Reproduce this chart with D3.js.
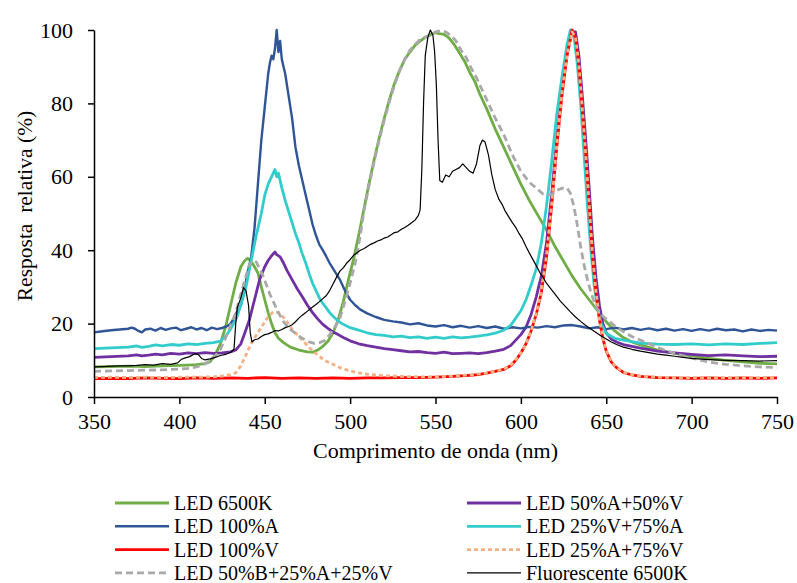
<!DOCTYPE html>
<html>
<head>
<meta charset="utf-8">
<title>Resposta relativa</title>
<script src="https://d3js.org/d3.v7.min.js"></script>
<style>
  body { margin: 0; background: #fff; }
  .curve { fill: none; stroke-linejoin: round; stroke-linecap: butt; }
  .axis path, .axis line { stroke: #000; stroke-width: 1.5px; }
</style>
</head>
<body>
<svg width="797" height="583"></svg>
<script>
// wavelength (nm), relative response (%)
const led6500 = [[350,8.2],[360,8.3],[370,8.4],[380,8.3],[390,8.5],[400,8.6],[405,8.7],[410,8.8],[415,9.1],[418,9.6],[421,11.5],[424,14.5],[427,19],[430,25],[433,31],[436,35.5],[438,37],[440,37.8],[442,37],[444,35.5],[446,33.8],[448,30],[450,26.5],[452,23],[454,20],[456,17.5],[458,16],[461,14.8],[465,13.6],[470,12.8],[475,12.3],[478,12.2],[481,12.8],[484,13.8],[487,15.2],[490,17.5],[493,21],[496,26],[499,32],[502,37.5],[505,44],[508,51],[511,58],[514,64.5],[517,70.5],[520,76],[523,81],[526,85.5],[529,89],[532,92],[535,94],[538,95.8],[541,97],[544,98],[547,98.7],[550,99.3],[552,99],[555,98.8],[558,97.8],[561,96],[564,93.8],[567,91.5],[570,88.5],[573,86],[576,82.5],[580,78.5],[585,73],[590,68],[595,63],[600,58],[605,53.5],[610,49.5],[615,45.5],[620,41],[625,37],[630,33],[635,29.5],[640,26.5],[645,23.5],[650,20.5],[655,18],[660,16.2],[665,15],[670,14.2],[675,13.5],[680,12.8],[690,11.9],[700,11.2],[710,10.5],[720,10],[730,9.6],[740,9.2],[750,9]];

const led50A50V = [[350,10.8],[360,11.0],[370,11.2],[375,11.5],[378,11.2],[382,11.4],[386,11.7],[390,11.5],[395,11.9],[400,11.7],[405,12.0],[410,11.8],[415,12.1],[420,11.9],[425,12.0],[430,12.3],[433,12.8],[436,14.5],[438,17],[441,21],[444,26.5],[447,32],[450,35.5],[452,37.2],[454,38.5],[456,39.5],[457,38.8],[459,38.2],[461,36.5],[463,34.5],[466,32],[469,29.5],[472,27.3],[475,25],[478,23],[481,21.3],[484,19.8],[487,18.7],[490,17.7],[493,17],[496,16.2],[500,15.3],[505,14.5],[510,14.0],[515,13.6],[520,13.2],[525,12.9],[530,12.6],[535,12.3],[540,12.4],[545,12.1],[550,11.9],[555,12.2],[560,11.8],[565,11.9],[570,12.0],[575,11.8],[580,12.1],[585,12.5],[590,13.0],[594,14],[597,15.5],[600,17],[603,19],[606,22.5],[609,27.3],[612,33],[615,42],[618,55],[621,70],[624,83.5],[627,93.5],[630,99.5],[632,99.5],[634,93],[636,82],[638,70],[640,57],[642,43],[644,32.5],[646,25],[648,20],[650,17.5],[653,15.8],[656,15],[660,14.3],[665,13.8],[670,13.3],[675,12.9],[680,12.5],[690,12.0],[700,11.6],[710,11.3],[720,11.5],[730,11.2],[740,11.0],[750,11.1]];

const led100A = [[350,17.6],[355,17.9],[360,18.2],[365,18.4],[370,18.6],[372,18.9],[374,18.6],[376,18.0],[378,17.6],[380,18.4],[383,18.6],[386,18.1],[389,18.8],[392,18.3],[395,18.7],[398,18.9],[401,18.2],[404,18.6],[407,19.0],[410,18.4],[413,18.8],[416,18.2],[419,18.9],[422,18.5],[425,18.8],[428,19.3],[430,20],[432,21.5],[434,23.5],[436,25],[438,29],[440,34],[442,38],[444,46],[446,58],[448,70],[450,79],[452,88],[453,91],[454,93],[455,92],[456,95],[457,100],[458,94],[459,97],[460,92],[462,88],[464,82],[466,76],[468,68],[470,63],[472,59],[474,55],[476,51],[478,47],[480,44],[482,41.5],[484,40],[486,38.3],[488,36.5],[490,35],[492,33.5],[494,32],[496,30],[498,28],[500,26.5],[503,25],[506,23.8],[510,22.8],[515,21.8],[520,21],[525,20.6],[530,20.3],[535,19.8],[540,20.1],[545,19.5],[550,19.2],[555,19.6],[560,19.0],[565,19.4],[570,18.9],[575,19.3],[580,18.8],[585,19.2],[590,18.6],[595,19.0],[600,18.7],[605,19.1],[610,18.9],[615,19.3],[620,19.0],[625,19.5],[630,19.6],[635,19.2],[640,18.7],[645,19.0],[650,18.5],[655,18.9],[660,18.4],[665,18.8],[670,18.3],[675,18.7],[680,18.2],[685,18.6],[690,18.1],[695,18.5],[700,18.0],[705,18.5],[710,18.1],[715,18.6],[720,18.2],[725,18.4],[730,17.9],[735,18.4],[740,18.0],[745,18.3],[750,18.1]];

const led25V75A = [[350,13.2],[360,13.4],[370,13.6],[375,13.9],[378,13.5],[382,13.8],[386,14.2],[390,13.9],[395,14.3],[400,14.1],[405,14.5],[410,14.3],[415,14.6],[420,14.8],[424,15.2],[427,16.5],[430,18.5],[433,21],[436,25],[439,30],[442,37],[445,44],[448,50],[450,55],[452,58],[454,60],[456,62],[457,60],[458,61],[460,57],[462,53.5],[464,50.5],[466,47.5],[468,44.5],[470,42],[472,39],[474,36.5],[476,33.6],[478,31],[480,29],[482,27],[484,25.5],[486,24.3],[488,23],[490,22],[493,20.7],[496,19.8],[500,18.9],[505,18.2],[510,17.5],[515,17.0],[520,16.8],[525,16.4],[530,16.6],[535,16.2],[540,16.4],[545,16.0],[550,16.3],[555,16.0],[560,16.4],[565,16.1],[570,16.3],[575,16.6],[580,16.9],[585,17.4],[590,18.2],[594,19.5],[597,21.5],[600,23.5],[603,26.5],[606,30.5],[609,35],[612,42],[615,52],[618,64],[621,77],[624,87],[627,96],[629,100],[631,98.5],[633,91],[635,80],[637,66],[639,52],[641,40],[643,30],[645,24],[647,20],[650,17.3],[655,16],[660,15.5],[665,15.1],[670,14.7],[680,14.4],[690,14.3],[700,14.5],[710,14.2],[720,14.5],[730,14.3],[740,14.6],[750,14.8]];

const led100V = [[350,5.0],[360,5.1],[370,5.0],[380,5.2],[390,5.1],[400,5.0],[410,5.2],[420,5.1],[430,5.2],[440,5.1],[450,5.3],[460,5.1],[470,5.2],[480,5.1],[490,5.2],[500,5.1],[510,5.2],[520,5.2],[530,5.3],[540,5.3],[550,5.4],[560,5.6],[570,5.9],[575,6.1],[580,6.5],[585,7.0],[590,7.5],[594,8.5],[597,10],[600,12],[603,14.5],[606,18],[609,22.5],[612,28.5],[615,38],[618,52],[621,68],[624,82],[627,93],[630,100],[632,98],[634,90],[636,78],[638,66],[640,52],[642,38],[644,28.5],[646,21],[648,16],[650,12.5],[653,9.5],[656,8],[660,6.7],[665,6.0],[670,5.6],[680,5.3],[690,5.2],[700,5.1],[710,5.2],[720,5.1],[730,5.2],[740,5.1],[750,5.2]];

const led25A75V = [[350,5.3],[360,5.4],[370,5.3],[380,5.4],[390,5.3],[400,5.4],[410,5.4],[420,5.5],[425,5.7],[430,6.1],[433,6.6],[436,8.5],[439,11.5],[442,14.5],[445,16.8],[448,19],[451,21.2],[454,22.8],[456,23.3],[458,23],[460,22.2],[463,20.5],[466,18.5],[469,17],[472,15.5],[476,13.5],[480,11.8],[485,10],[490,8.9],[495,7.8],[500,7.1],[505,6.6],[510,6.2],[520,5.8],[530,5.6],[540,5.5],[550,5.5],[560,5.7],[570,6.0],[580,6.5],[585,7.0],[590,7.6],[594,8.6],[597,10.2],[600,12],[603,14.5],[606,18],[609,22.8],[612,28.8],[615,38.5],[618,52.5],[621,68.5],[624,82.5],[627,93],[630,99.5],[632,98],[634,90.5],[636,78.5],[638,66],[640,52.5],[642,38.5],[644,28.8],[646,21.2],[648,16.2],[650,12.7],[653,9.7],[656,8.1],[660,6.8],[665,6.1],[670,5.7],[680,5.4],[690,5.3],[700,5.3],[710,5.3],[720,5.3],[730,5.3],[740,5.3],[750,5.3]];

const led50B = [[350,7.0],[360,7.1],[370,7.2],[380,7.3],[390,7.4],[400,7.6],[405,7.8],[410,8.2],[415,9],[418,10],[421,11.2],[424,13],[427,16],[430,19.5],[433,23],[436,28],[439,33],[441,36],[443,37.3],[445,36.8],[447,35],[449,33],[451,30.5],[453,28],[455,26],[458,23],[461,20.5],[464,18.8],[468,17.3],[472,16],[476,15],[479,14.6],[482,14.8],[485,15.4],[488,17],[491,19],[494,21.5],[497,26],[500,31],[503,36.5],[506,44],[508,50.5],[511,57.5],[514,64],[517,70],[520,75.5],[523,80.5],[526,85],[529,89],[532,92],[535,94.5],[538,96],[541,97.5],[544,98],[547,98.5],[550,99.5],[553,99.8],[556,99.5],[559,98.5],[562,97],[565,94.5],[568,92.5],[571,89.5],[574,87],[577,84],[580,81],[585,76],[590,71.5],[595,66],[600,61.5],[605,58.5],[610,56.5],[613,55.3],[616,55],[619,55.5],[622,56.5],[625,57],[627,57],[629,55.5],[631,52],[633,47],[635,41],[637,36],[639,32],[641,28.5],[644,24.5],[648,22],[652,20.5],[656,19],[660,17.8],[665,16.5],[670,15.5],[675,14.5],[680,13.5],[690,11.9],[700,10.6],[710,9.5],[720,8.9],[730,8.5],[740,8.2],[750,8]];

const fluor6500 = [[350,8.2],[355,8.3],[360,8.4],[365,8.5],[370,8.5],[375,8.6],[380,8.8],[385,8.7],[390,9.1],[395,8.9],[399,9.3],[401,10.2],[403,10.6],[406,11.0],[409,11.8],[411,11.6],[413,10.5],[415,10.1],[418,10.4],[421,10.8],[424,11.3],[427,11.6],[430,12.2],[432,13.0],[433,20],[434,24.5],[436,27],[437.5,29.8],[439,29],[440.5,25],[441.5,17.5],[442.5,15],[444,15.6],[446,15.8],[448,16.5],[450,17],[452,17.2],[454,17.6],[456,18.1],[458,18.0],[460,18.4],[462,18.9],[464,19.2],[466,19.7],[468,20.5],[470,21.5],[472,22.3],[474,23],[476,23.8],[478,24.5],[480,25.2],[482,26],[484,26.8],[486,27.6],[488,29],[490,30.8],[492,32.6],[494,34.3],[496,35.2],[498,36.5],[500,37.4],[502,38.6],[504,39.3],[506,40],[508,40.4],[510,41],[512,41.6],[514,42],[516,42.5],[518,42.8],[520,43.3],[522,43.6],[524,44.2],[526,44.8],[528,45],[530,45.7],[532,46.2],[534,46.8],[536,47.5],[538,48.2],[540,49.5],[541,51],[542,62],[543,80],[544,93],[545.5,98],[547,100],[548.5,98.5],[549.5,94],[550.5,85],[551.5,70],[552.5,59],[554,58.5],[556,60.5],[558,60],[560,61.5],[562,62],[564,62.5],[566,63.5],[568,62.5],[570,61.5],[572,61],[574,63.5],[576,68.5],[577.5,70],[579,69.5],[581,66],[583,60.5],[585,56.5],[587,54],[589,52.5],[591,50.5],[593,49],[595,47.5],[597,46.2],[599,44.5],[601,43],[603,41],[605,39.2],[607,37.5],[609,35.8],[611,34],[613,32.6],[615,31],[617,29.8],[620,28],[623,26.2],[626,24.7],[629,23.2],[632,21.8],[635,20.6],[638,19.5],[641,18.5],[644,17.6],[647,16.6],[650,15.8],[653,15],[656,14.3],[660,13.6],[665,13.0],[670,12.5],[675,12.1],[680,11.7],[685,11.4],[690,11.1],[695,10.8],[700,10.5],[710,10.2],[720,10.0],[730,9.9],[740,9.8],[750,9.9]];

const seriesNames = ["LED 6500K", "LED 50%A+50%V", "LED 100%A", "LED 25%V+75%A",
                     "LED 100%V", "LED 25%A+75%V", "LED 50%B+25%A+25%V", "Fluorescente 6500K"];
const seriesData = [led6500, led50A50V, led100A, led25V75A, led100V, led25A75V, led50B, fluor6500];
const xTicks = [350, 400, 450, 500, 550, 600, 650, 700, 750];
const yTicks = [0, 20, 40, 60, 80, 100];

const styles = [
  { color: "#70AD47", width: 2.8, dash: null },
  { color: "#7030A0", width: 2.8, dash: null },
  { color: "#2F5597", width: 2.4, dash: null },
  { color: "#33CCCC", width: 2.8, dash: null },
  { color: "#FF0000", width: 2.8, dash: null },
  { color: "#F4B183", width: 2.8, dash: "4,3" },
  { color: "#A9A9A9", width: 2.8, dash: "7,4" },
  { color: "#000000", width: 1.2, dash: null }
];

const FONT = "Liberation Serif";

const svg = d3.select("svg"),
    margin = {top: 30, right: 20, bottom: 186, left: 94},
    width = 777 - margin.left,
    height = 397 - margin.top,
    g = svg.append("g").attr("transform", "translate(" + margin.left + "," + margin.top + ")");

const x = d3.scaleLinear().domain([350, 750]).range([0, width]);
const y = d3.scaleLinear().domain([0, 100]).range([height, 0]);

const line = d3.line()
    .x(function(d) { return x(d[0]); })
    .y(function(d) { return y(d[1]); });

// curves
seriesData.forEach(function(data, i) {
  g.append("path")
    .datum(data)
    .attr("class", "curve")
    .attr("stroke", styles[i].color)
    .attr("stroke-width", styles[i].width)
    .attr("stroke-dasharray", styles[i].dash)
    .attr("d", line);
});

// axes
g.append("g")
    .attr("class", "axis")
    .attr("transform", "translate(0," + height + ")")
    .call(d3.axisBottom(x).tickValues(xTicks).tickSize(7).tickSizeOuter(0).tickPadding(9));

g.append("g")
    .attr("class", "axis")
    .call(d3.axisLeft(y).tickValues(yTicks).tickSize(6).tickSizeOuter(0).tickPadding(15));

svg.selectAll(".axis").attr("font-family", FONT).attr("font-size", 22);
svg.selectAll(".axis text").attr("fill", "#000");

// axis titles
svg.append("text")
    .attr("x", margin.left + width / 2)
    .attr("y", 458)
    .attr("text-anchor", "middle")
    .attr("font-family", FONT)
    .attr("font-size", 22)
    .text("Comprimento de onda (nm)");

svg.append("text")
    .attr("transform", "translate(32,206) rotate(-90)")
    .attr("text-anchor", "middle")
    .attr("font-family", FONT)
    .attr("font-size", 21.5)
    .attr("xml:space", "preserve")
    .style("white-space", "pre")
    .text("Resposta  relativa (%)");

// legend
const legend = svg.append("g");
seriesNames.forEach(function(name, i) {
  const col = i % 2, row = Math.floor(i / 2);
  const lx = col === 0 ? 115 : 467;
  const ly = 503 + row * 23.3;
  legend.append("line")
    .attr("x1", lx).attr("x2", lx + 54)
    .attr("y1", ly).attr("y2", ly)
    .attr("stroke", styles[i].color)
    .attr("stroke-width", styles[i].width)
    .attr("stroke-dasharray", styles[i].dash);
  legend.append("text")
    .attr("x", lx + 59)
    .attr("y", ly + 7)
    .attr("font-family", FONT)
    .attr("font-size", 20)
    .text(name);
});
</script>
</body>
</html>
